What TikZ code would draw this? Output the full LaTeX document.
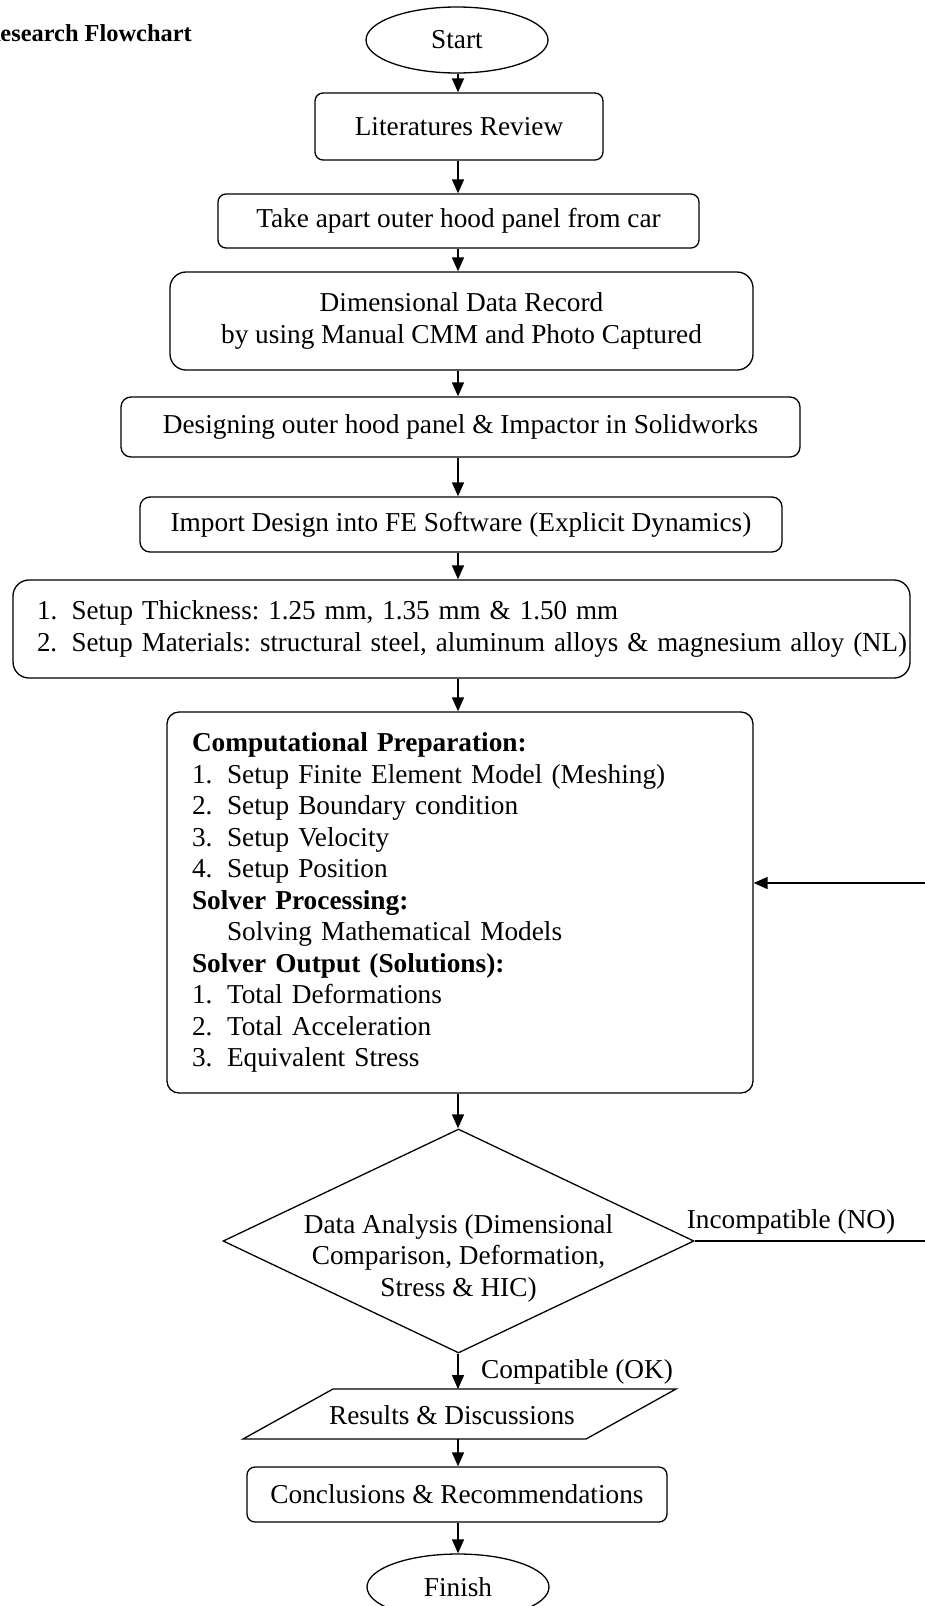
\documentclass[tikz,border=0pt]{standalone}
\usepackage{fontspec}
\setmainfont{Liberation Serif}
\usetikzlibrary{shapes.geometric,arrows.meta,calc}
\frenchspacing
\begin{document}
\frenchspacing
\begin{tikzpicture}[x=1pt,y=-1pt,
  every node/.style={font=\fontsize{27.3pt}{31.5pt}\selectfont\frenchspacing},
  ln/.style={line width=1.3pt},
  box/.style={draw, line width=1.3pt, rounded corners=#1, inner sep=0pt, align=center},
  box/.default=8pt,
  term/.style={draw, ellipse, line width=1.3pt, inner sep=0pt},
  decision/.style={draw, diamond, line width=1.3pt, inner sep=0pt},
  plain/.style={inner sep=0pt},
  arr/.style={line width=1.6pt, -{Triangle[length=14pt,width=12pt]}}]
\useasboundingbox (0,0) rectangle (925,1606);
\clip (0,0) rectangle (925,1606);

\coordinate (ax) at (458,0);

\node[plain, anchor=east, font=\bfseries\fontsize{24.4pt}{28pt}\selectfont] (title) at (192,33) {Research Flowchart};

\node[term, minimum width=182pt, minimum height=66pt] (start) at (457,40) {Start};
\node[box=8pt, minimum width=288pt, minimum height=67pt] (lit) at (459,126.5) {Literatures Review};
\node[box=8pt, minimum width=481pt, minimum height=54pt] (take) at (458.5,221) {Take apart outer hood panel from car};
\node[box=16pt, minimum width=583pt, minimum height=98pt] (dim) at (461.5,321) {Dimensional Data Record\\by using Manual CMM and Photo Captured};
\node[box=10pt, minimum width=679pt, minimum height=60pt] (des) at (460.5,427) {Designing outer hood panel \& Impactor in Solidworks};
\node[box=10pt, minimum width=642pt, minimum height=55pt] (imp) at (461,524.5) {Import Design into FE Software (Explicit Dynamics)};
\node[box=16pt, minimum width=897pt, minimum height=98pt, text width=849pt, align=left] (setup) at (461.5,629)
  {\resizebox{581pt}{\height}{\makebox[35pt][l]{1.}Setup Thickness: 1.25 mm, 1.35 mm \& 1.50 mm}\\
   \resizebox{870pt}{\height}{\makebox[35pt][l]{2.}Setup Materials: structural steel, aluminum alloys \& magnesium alloy (NL)}};
\node[box=12pt, minimum width=586pt, minimum height=381pt, text width=536pt, align=left] (comp) at (460,902.5)
  {\textbf{Computational Preparation:}\\
   \makebox[35pt][l]{1.}Setup Finite Element Model (Meshing)\\
   \makebox[35pt][l]{2.}Setup Boundary condition\\
   \makebox[35pt][l]{3.}Setup Velocity\\
   \makebox[35pt][l]{4.}Setup Position\\
   \textbf{Solver Processing:}\\
   \hspace*{35pt}Solving Mathematical Models\\
   \textbf{Solver Output (Solutions):}\\
   \makebox[35pt][l]{1.}Total Deformations\\
   \makebox[35pt][l]{2.}Total Acceleration\\
   \makebox[35pt][l]{3.}Equivalent Stress};

\node[decision, minimum width=471pt, minimum height=224pt] (dec) at (458.5,1241) {};
\node[plain, align=center] (dectxt) at (458.5,1258) {Data Analysis (Dimensional\\Comparison, Deformation,\\Stress \& HIC)};

\node[plain] (res) at (452,1415) {Results \& Discussions};
\draw[ln] (333,1389) -- (676,1389) -- (586,1439) -- (243,1439) -- cycle;
\coordinate (rtop) at (458,1389);
\coordinate (rbot) at (458,1439);

\node[box=8pt, minimum width=420pt, minimum height=55pt] (concl) at (457,1494.5) {Conclusions \& Recommendations};
\node[term, minimum width=182pt, minimum height=66pt] (fin) at (458,1587) {Finish};

\node[plain] (nolab) at (791,1222) {Incompatible (NO)};
\node[plain] (oklab) at (577,1372) {Compatible (OK)};

\draw[arr] (start.south -| ax) -- (lit.north -| ax);
\draw[arr] (lit.south -| ax) -- (take.north -| ax);
\draw[arr] (take.south -| ax) -- (dim.north -| ax);
\draw[arr] (dim.south -| ax) -- (des.north -| ax);
\draw[arr] (des.south -| ax) -- (imp.north -| ax);
\draw[arr] (imp.south -| ax) -- (setup.north -| ax);
\draw[arr] (setup.south -| ax) -- (comp.north -| ax);
\draw[arr] (comp.south -| ax) -- (dec.north -| ax);
\draw[arr] (dec.south -| ax) -- (rtop);
\draw[arr] (rbot) -- (concl.north -| ax);
\draw[arr] (concl.south -| ax) -- (fin.north -| ax);

\coordinate (fb) at (940,883);
\draw[arr] (dec.east) -- (dec.east -| fb) -- (fb) -- (comp.east |- fb);
\end{tikzpicture}
\end{document}
